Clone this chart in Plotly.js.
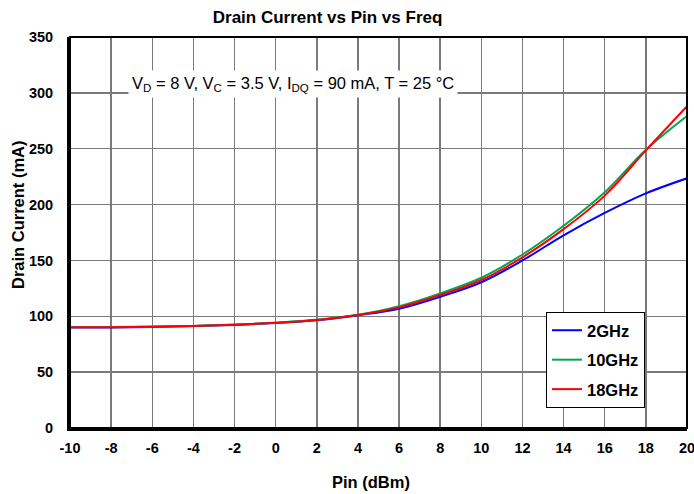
<!DOCTYPE html>
<html>
<head>
<meta charset="utf-8">
<script src="https://cdn.plot.ly/plotly-3.0.1.min.js"></script>
<style>
  html, body { margin: 0; padding: 0; background: #fff; }
  #chart { width: 694px; height: 494px; }
</style>
</head>
<body>
<div id="chart"></div>
<script>
// Input power sweep (dBm)
const pin = [-10, -8, -6, -4, -2, 0, 2, 4, 6, 8, 10, 12, 14, 16, 18, 20];

// Drain current (mA) at each frequency
const id2GHz  = [90.0, 90.0, 90.5, 91.2, 92.3, 94.0, 96.5, 101.0, 106.8, 117.5, 130.5, 150.0, 172.5, 192.5, 210.0, 223.5];
const id10GHz = [90.3, 90.3, 90.8, 91.4, 92.6, 94.3, 96.8, 101.3, 109.0, 120.5, 134.5, 155.3, 181.0, 211.0, 249.0, 279.3];
const id18GHz = [90.2, 90.2, 90.7, 91.3, 92.5, 94.2, 96.7, 101.2, 108.0, 119.0, 132.5, 152.8, 178.0, 208.0, 248.5, 288.0];

const seriesNames  = ['2GHz', '10GHz', '18GHz'];
const seriesValues = [id2GHz, id10GHz, id18GHz];
const seriesColors = ['#0000ff', '#00a651', '#ff0000'];

const xTicks = [-10, -8, -6, -4, -2, 0, 2, 4, 6, 8, 10, 12, 14, 16, 18, 20];
const yTicks = [0, 50, 100, 150, 200, 250, 300, 350];

const FONT = 'Arial, "Liberation Sans", sans-serif';

const traces = seriesNames.map((name, i) => ({
  type: 'scatter',
  mode: 'lines',
  name: name,
  x: pin,
  y: seriesValues[i],
  legendgroup: 'g' + i,
  line: { color: seriesColors[i], width: 2, shape: 'spline', smoothing: 1 },
  hoverinfo: 'x+y+name'
}));

const layout = {
  width: 694,
  height: 494,
  margin: { l: 70, r: 7, t: 37, b: 66 },
  paper_bgcolor: '#ffffff',
  plot_bgcolor: '#ffffff',
  font: { family: FONT, color: '#000' },
  title: {
    text: 'Drain Current vs Pin vs Freq',
    font: { family: FONT, size: 17, weight: 'bold', color: '#000' },
    xref: 'container', x: 0.472, xanchor: 'center',
    yref: 'container', y: 0.966, yanchor: 'middle'
  },
  xaxis: {
    range: [-10, 20],
    tickmode: 'array',
    tickvals: xTicks,
    ticktext: xTicks.map(String),
    tickfont: { family: FONT, size: 14.5, weight: 'bold', color: '#000' },
    ticks: '',
    ticklabelstandoff: 5,
    ticklabeloverflow: 'allow',
    showgrid: true,
    gridcolor: '#7a7a7a',
    gridwidth: 1.5,
    zeroline: false,
    showline: true,
    linecolor: '#000',
    linewidth: 3,
    fixedrange: true
  },
  yaxis: {
    range: [0, 350],
    tickmode: 'array',
    tickvals: yTicks,
    ticktext: yTicks.map(String),
    tickfont: { family: FONT, size: 14.5, weight: 'bold', color: '#000' },
    ticks: '',
    ticklabelstandoff: 11,
    ticklabeloverflow: 'allow',
    showgrid: true,
    gridcolor: '#7a7a7a',
    gridwidth: 1.5,
    zeroline: false,
    showline: true,
    linecolor: '#000',
    linewidth: 3,
    fixedrange: true
  },
  shapes: [{
    type: 'rect', xref: 'paper', yref: 'paper',
    x0: 0, x1: 1, y0: 0, y1: 1,
    line: { color: '#000', width: 2 },
    fillcolor: 'rgba(0,0,0,0)',
    layer: 'above'
  }],
  annotations: [
    {
      text: 'V<sub>D</sub> = 8 V, V<sub>C</sub> = 3.5 V, I<sub>DQ</sub> = 90 mA, T = 25 °C',
      xref: 'x', yref: 'y', x: 0.85, y: 308,
      xanchor: 'center', yanchor: 'middle',
      showarrow: false,
      bgcolor: '#ffffff',
      borderpad: 3,
      font: { family: FONT, size: 16.5, color: '#000' }
    },
    {
      text: 'Drain Current (mA)',
      xref: 'paper', yref: 'paper',
      x: -52 / 617, y: (428 - 215) / 391,
      xanchor: 'center', yanchor: 'middle',
      textangle: -90,
      showarrow: false,
      font: { family: FONT, size: 16.5, weight: 'bold', color: '#000' }
    },
    {
      text: 'Pin (dBm)',
      xref: 'paper', yref: 'paper',
      x: (371 - 70) / 617, y: -(482 - 428) / 391,
      xanchor: 'center', yanchor: 'middle',
      showarrow: false,
      font: { family: FONT, size: 16.5, weight: 'bold', color: '#000' }
    }
  ],
  showlegend: true,
  legend: {
    x: (546 - 70) / 617, y: (428 - 312) / 391,
    xanchor: 'left', yanchor: 'top',
    bgcolor: '#ffffff',
    bordercolor: '#000',
    borderwidth: 1,
    traceorder: 'grouped',
    tracegroupgap: 5,
    font: { family: FONT, size: 16.5, weight: 'bold', color: '#000' }
  }
};

Plotly.newPlot('chart', traces, layout, { displayModeBar: false, staticPlot: true });
</script>
</body>
</html>
